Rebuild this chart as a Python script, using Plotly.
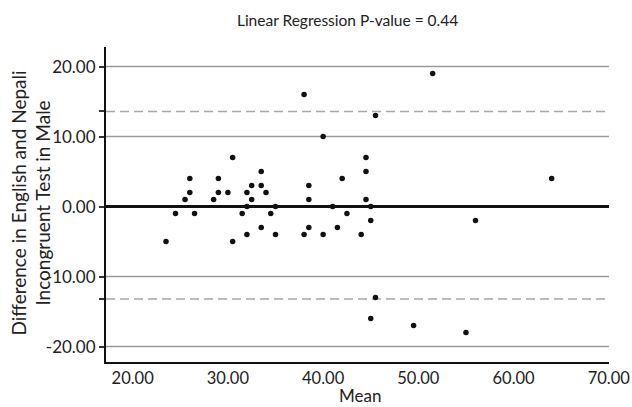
import plotly.graph_objects as go

# Bland-Altman style data: mean of two tests vs difference
mean_vals = [23.5, 24.5, 25.5, 26, 26, 26.5, 28.5, 29, 29, 30,
             30.5, 30.5, 31.5, 32, 32, 32, 32.5, 32.5, 33.5, 33.5,
             33.5, 34, 34.5, 35, 35, 38, 38, 38.5, 38.5, 38.5,
             40, 40, 41, 41.5, 42, 42.5, 44, 44.5, 44.5, 44.5,
             45, 45, 45.5, 45, 45.5, 49.5, 51.5, 55, 56, 64]
diff_vals = [-5, -1, 1, 4, 2, -1, 1, 4, 2, 2,
             7, -5, -1, -4, 2, 0, 3, 1, 5, 3,
             -3, 2, -1, 0, -4, 16, -4, 3, 1, -3,
             10, -4, 0, -3, 4, -1, -4, 7, 5, 1,
             0, -2, 13, -16, -13, -17, 19, -18, -2, 4]

upper_limit = 13.6
lower_limit = -13.2
zero_line = 0
grid_vals = [-20, -10, 10, 20]

x_ticks = [20, 30, 40, 50, 60, 70]
x_tick_text = ["20.00", "30.00", "40.00", "50.00", "60.00", "70.00"]
y_ticks = [-20, lower_limit, -10, 0, 10, upper_limit, 20]
y_tick_text = ["-20.00", "", "-10.00", "0.00", "10.00", "", "20.00"]

title_text = "Linear Regression P-value = 0.44"
x_title = "Mean"
y_title = "Difference in English and Nepali<br>Incongruent Test in Male"

FONT = "Lato, Carlito, Calibri, sans-serif"
TXT = "#222222"

fig = go.Figure()

x_min, x_max = 17.2, 70.02
y_min, y_max = -22.2, 22.8

for g in grid_vals:
    fig.add_shape(type="line", xref="x", yref="y", x0=x_min, x1=x_max, y0=g, y1=g,
                  line=dict(color="#9a9a9a", width=1.5), layer="below")
for lim in [upper_limit, lower_limit]:
    fig.add_shape(type="line", xref="x", yref="y", x0=x_min, x1=x_max, y0=lim, y1=lim,
                  line=dict(color="#a8a8a8", width=1.5, dash="9px,5px"), layer="below")
fig.add_shape(type="line", xref="x", yref="y", x0=x_min, x1=x_max, y0=zero_line, y1=zero_line,
              line=dict(color="#111111", width=3), layer="below")

fig.add_trace(go.Scatter(
    x=mean_vals, y=diff_vals, mode="markers",
    marker=dict(color="#111111", size=5.5),
    showlegend=False, hoverinfo="x+y"))

fig.update_layout(
    width=632, height=407,
    margin=dict(l=106, r=23, t=47, b=45),
    paper_bgcolor="white", plot_bgcolor="white",
    font=dict(family=FONT, color=TXT, size=15),
    title=dict(text=title_text, x=0.55, xanchor="center", y=0.95, yanchor="middle",
               font=dict(family=FONT, size=15.5, color=TXT)),
    showlegend=False,
)
fig.add_annotation(text=x_title, xref="paper", yref="paper", x=0.505, y=-0.106,
                   xanchor="center", yanchor="middle", showarrow=False,
                   font=dict(size=17, family=FONT, color=TXT))
fig.add_annotation(text=y_title, xref="paper", yref="paper", x=-0.15, y=0.505,
                   xanchor="center", yanchor="middle", showarrow=False, textangle=-90,
                   font=dict(size=19, family=FONT, color=TXT))
fig.update_xaxes(
    range=[x_min, x_max], tickvals=x_ticks, ticktext=x_tick_text,
    showgrid=False, zeroline=False, showline=True, linecolor="#111111", linewidth=2,
    ticks="", tickfont=dict(size=16.5, family=FONT, color=TXT),
    ticklabelstandoff=0, ticklabeloverflow="allow", automargin=False,
)
fig.update_yaxes(
    range=[y_min, y_max], tickvals=y_ticks, ticktext=y_tick_text,
    showgrid=False, zeroline=False, showline=True, linecolor="#111111", linewidth=2,
    ticks="outside", ticklen=5, tickwidth=1.5, tickcolor="#333333",
    tickfont=dict(size=17, family=FONT, color=TXT), automargin=False,
)

fig.write_html("out.html")
